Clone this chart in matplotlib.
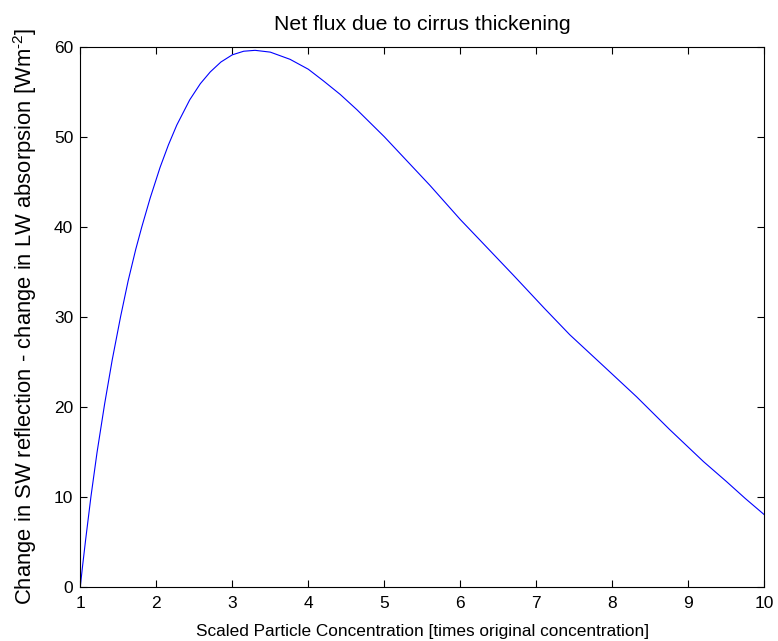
import matplotlib
matplotlib.use("Agg")
import matplotlib.pyplot as plt

plt.rcParams['font.family'] = ['Liberation Sans', 'DejaVu Sans']
plt.rcParams['mathtext.fontset'] = 'custom'
plt.rcParams['mathtext.rm'] = 'Liberation Sans'
plt.rcParams['mathtext.default'] = 'regular'

# Values
conc = [1.00, 1.03, 1.07, 1.14, 1.22, 1.32, 1.42, 1.53, 1.63, 1.73, 1.81, 1.92,
        2.05, 2.16, 2.27, 2.44, 2.58, 2.71, 2.85, 3.00, 3.15, 3.30, 3.50, 3.76,
        4.00, 4.20, 4.42, 4.64, 5.00, 5.30, 5.60, 6.00, 6.26, 6.70, 7.11, 7.44,
        7.90, 8.32, 8.75, 9.20, 9.50, 9.75, 10.00]
net_flux = [0.0, 2.3, 5.2, 10.0, 14.9, 20.3, 25.2, 30.0, 34.0, 37.5, 40.0, 43.2,
            46.6, 49.1, 51.3, 54.1, 55.9, 57.2, 58.3, 59.1, 59.5, 59.6, 59.4, 58.6,
            57.5, 56.2, 54.7, 53.0, 50.0, 47.3, 44.6, 40.8, 38.5, 34.6, 30.9, 28.0,
            24.4, 21.1, 17.5, 13.9, 11.7, 9.8, 8.0]

x_ticks = [1, 2, 3, 4, 5, 6, 7, 8, 9, 10]
y_ticks = [0, 10, 20, 30, 40, 50, 60]

fig = plt.figure(figsize=(7.78, 6.41), dpi=100)
ax = fig.add_axes([0.1032, 0.0847, 0.8792, 0.8424])
ax.plot(conc, net_flux, color='#0000ff', linewidth=0.8)
ax.set_xlim(1, 10)
ax.set_ylim(0, 60)
ax.set_xticks(x_ticks)
ax.set_yticks(y_ticks)
ax.tick_params(direction='in', top=True, right=True, length=5, width=0.8,
               labelsize=12.5)
ax.tick_params(axis='x', pad=7)
ax.tick_params(axis='y', pad=5)
for s in ax.spines.values():
    s.set_linewidth(0.8)
ax.set_title('Net flux due to cirrus thickening', fontsize=15.3, pad=12)
ax.set_xlabel('Scaled Particle Concentration [times original concentration]',
              fontsize=12.4, labelpad=9)
ax.set_ylabel(r'Change in SW reflection - change in LW absorpsion [Wm$^{\text{-}2}$]',
              fontsize=15.8, labelpad=11)
fig.savefig('out.png', dpi=100)
